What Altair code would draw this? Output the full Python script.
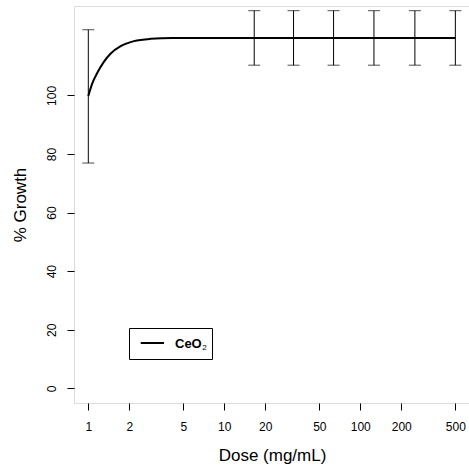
import altair as alt
import pandas as pd

# Fitted curve
curve_dose = [1, 1.07, 1.165, 1.305, 1.461, 1.73, 2.168, 2.875, 4.15, 8, 20, 100, 500]
curve_growth = [99.8, 104.1, 107.7, 111.5, 114.3, 116.8, 118.5, 119.3, 119.6, 119.6, 119.6, 119.6, 119.6]

# Error bars
bar_dose = [1, 16.6, 32.3, 63.6, 126, 252, 500]
bar_low = [76.9, 110.3, 110.3, 110.3, 110.3, 110.3, 110.3]
bar_high = [122.4, 128.9, 128.9, 128.9, 128.9, 128.9, 128.9]

x_ticks = [1, 2, 5, 10, 20, 50, 100, 200, 500]
y_ticks = [0, 20, 40, 60, 80, 100]
legend_name = "CeO"
legend_sub = "2"

FONT = "Liberation Sans"
W, H = 395, 397

curve_df = pd.DataFrame({"dose": curve_dose, "growth": curve_growth})
bar_df = pd.DataFrame({"dose": bar_dose, "low": bar_low, "high": bar_high})
one = pd.DataFrame({"k": [0]})

xscale = alt.Scale(type="log", domain=[0.785, 630], nice=False)
yscale = alt.Scale(domain=[-5, 130.5], nice=False, zero=False)

x_axis = alt.Axis(
    values=x_ticks, format="d", title="Dose (mg/mL)", grid=False, domain=False,
    tickSize=7, tickColor="black", tickWidth=1,
    labelFont=FONT, labelFontSize=12, labelColor="black", labelPadding=11,
    labelFlush=False, labelOverlap=False,
    titleFont=FONT, titleFontSize=17, titleFontWeight="normal", titleColor="black",
    titleX=198, titleY=57, titleBaseline="alphabetic", titleAlign="center", titleAngle=0,
)
y_axis = alt.Axis(
    values=y_ticks, format="d", title="% Growth", grid=False, domain=False,
    tickSize=7, tickColor="black", tickWidth=1,
    labelFont=FONT, labelFontSize=12, labelColor="black", labelPadding=12,
    labelAngle=270, labelAlign="center", labelBaseline="alphabetic",
    labelFlush=False, labelOverlap=False,
    titleFont=FONT, titleFontSize=17, titleFontWeight="normal", titleColor="black",
    titleX=-49, titleY=198.5, titleBaseline="alphabetic", titleAlign="center", titleAngle=270,
)

curve = alt.Chart(curve_df).mark_line(
    color="black", strokeWidth=2, interpolate="monotone", clip=True
).encode(
    x=alt.X("dose:Q", scale=xscale, axis=x_axis),
    y=alt.Y("growth:Q", scale=yscale, axis=y_axis),
)

bars = alt.Chart(bar_df).mark_rule(color="black", strokeWidth=1).encode(
    x="dose:Q", y="low:Q", y2="high:Q"
)
caps_low = alt.Chart(bar_df).mark_tick(
    color="black", orient="horizontal", size=12, thickness=1
).encode(x="dose:Q", y="low:Q")
caps_high = alt.Chart(bar_df).mark_tick(
    color="black", orient="horizontal", size=12, thickness=1
).encode(x="dose:Q", y="high:Q")

leg_box = alt.Chart(one).mark_rect(fill="white", stroke="black", strokeWidth=1).encode(
    x=alt.value(55.5), x2=alt.value(138.5), y=alt.value(322.5), y2=alt.value(353.5)
)
leg_line = alt.Chart(one).mark_rule(color="black", strokeWidth=2).encode(
    x=alt.value(66.7), x2=alt.value(90), y=alt.value(337)
)
leg_text = alt.Chart(one).mark_text(
    text=legend_name, font=FONT, fontSize=13, fontWeight="bold",
    align="left", baseline="alphabetic", color="black"
).encode(x=alt.value(101), y=alt.value(342.3))
leg_sub = alt.Chart(one).mark_text(
    text=legend_sub, font=FONT, fontSize=8, fontWeight="normal",
    align="left", baseline="alphabetic", color="black"
).encode(x=alt.value(128.3), y=alt.value(344.3))

chart = alt.layer(
    curve, bars, caps_low, caps_high, leg_box, leg_line, leg_text, leg_sub
).properties(
    width=W, height=H,
    autosize=alt.AutoSizeParams(type="none"),
    padding={"left": 74, "top": 6, "right": 0, "bottom": 72},
).configure_view(
    stroke="black", strokeWidth=1
).configure(background="white")

chart.save("out.html", embed_options={"renderer": "svg", "actions": False})
